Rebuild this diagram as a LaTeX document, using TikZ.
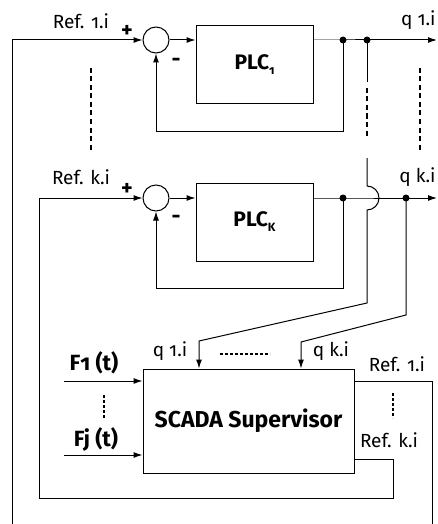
\documentclass[tikz,border=0pt]{standalone}
\usepackage{fontspec}
\setmainfont{Fira Sans}[Numbers=OldStyle]
\usetikzlibrary{arrows.meta,positioning,calc}
\newcommand{\lblsize}{\fontsize{19}{22}\selectfont}
\newcommand{\boxsize}{\fontsize{21}{25}\selectfont}
\newcommand{\plcsub}[1]{\raisebox{-5pt}{\fontsize{12}{14}\selectfont #1}}

\begin{document}
\begin{tikzpicture}[x=1pt, y=-1pt, >={Latex[length=9pt,width=6pt]}, line width=1pt,
    sumc/.style={draw, circle, minimum size=26pt, inner sep=0pt},
    plc/.style={draw, minimum width=117pt, minimum height=78pt, font=\bfseries\boxsize},
    scada/.style={draw, minimum width=211pt, minimum height=104pt, font=\bfseries\fontsize{23}{27}\selectfont},
    dot/.style={circle, fill, inner sep=0pt, minimum size=7pt},
    lbl/.style={font=\lblsize, inner sep=1pt},
    flbl/.style={font=\bfseries\fontsize{22}{26}\selectfont, inner sep=1pt},
    sgn/.style={font=\bfseries\fontsize{22}{26}\selectfont, inner sep=0pt},
    dots/.style={line width=2.5pt, dash pattern=on 5pt off 3.5pt},
    fine dots/.style={line width=2pt, dash pattern=on 3pt off 2pt}]
\useasboundingbox (0,0) rectangle (437,524);

% first loop
\node[sumc] (s1) at (156,40) {};
\node[plc] (p1) at (254.5,65) {PLC\plcsub{1}};
\node[dot] (d1a) at (343,40) {};
\node[dot] (d1b) at (367,40) {};
\coordinate (o1) at (437,40);
\node[lbl] (ref1) at (81,21) {Ref. 1.i};
\node[sgn] (plus1) at (127,31) {+};
\node[sgn] (minus1) at (176,62) {-};
\node[lbl, anchor=east] (q1) at (437,20) {q 1.i};

\draw[->] (s1) -- (p1.west |- s1);
\draw (p1.east |- s1) -- (d1a.center) -- (d1b.center);
\draw[->] (d1b.center) -- (o1);
\draw[->] (d1a.center) -- (343,131) -- (s1 |- 0,131) -- (s1.south);

% k-th loop
\node[sumc] (s2) at (156,198) {};
\node[plc] (p2) at (254.5,222) {PLC\plcsub{K}};
\node[dot] (d2a) at (343,198) {};
\node[dot] (d2b) at (406,198) {};
\coordinate (o2) at (437,198);
\node[lbl] (refk) at (81,177) {Ref. k.i};
\node[sgn] (plus2) at (127,189) {+};
\node[sgn] (minus2) at (176,219) {-};
\node[lbl, anchor=east] (qk) at (437,177) {q k.i};

\draw[->] (s2) -- (p2.west |- s2);
\draw (p2.east |- s2) -- (d2a.center) -- (d2b.center);
\draw[->] (d2b.center) -- (o2);
\draw[->] (d2a.center) -- (343,288) -- (s2 |- 0,288) -- (s2.south);

% dotted continuation
\draw[dots] (91,68) -- (91,152);
\draw[dots] (420,68) -- (420,150);

% supervisor
\node[scada] (sc) at (248.5,421) {SCADA Supervisor};
\coordinate (q1in) at (199,341);
\coordinate (qkin) at (301,342);

\draw (d1b.center) -- (367,82);
\draw[dots] (367,88) -- (367,138);
\draw[->] (367,158) -- (367,186) arc[start angle=90, end angle=-90, radius=12pt]
  -- (367,303) -- (q1in) -- (q1in |- sc.north);
\draw[->] (d2b.center) -- (406,315) -- (qkin) -- (qkin |- sc.north);

\node[lbl] (q1lbl) at (170,351) {q 1.i};
\node[lbl] (qklbl) at (331,351) {q k.i};
\draw[fine dots] (220,354) -- (270,354);

% disturbances
\coordinate (f1) at (64,381);
\coordinate (fj) at (64,455);
\node[flbl] (f1lbl) at (94,363) {F1 (t)};
\node[flbl] (fjlbl) at (96,439) {Fj (t)};
\draw[->] (f1) -- (sc.west |- f1);
\draw[->] (fj) -- (sc.west |- fj);
\draw[fine dots] (104,395) -- (104,418);

% references back to the loops
\node[lbl] (ref1b) at (397,364) {Ref. 1.i};
\node[lbl] (refkb) at (389,440) {Ref. k.i};
\draw[fine dots] (393,393) -- (393,418);
\draw[->] ([yshift=40pt]sc.east) -- (432,381) -- (432,530) -- (12,530) -- (12,40) -- (s1.west);
\draw[->] ([yshift=-38pt]sc.east) -- (393,459) -- (393,498) -- (39,498) -- (39,198) -- (s2.west);
\end{tikzpicture}
\end{document}
